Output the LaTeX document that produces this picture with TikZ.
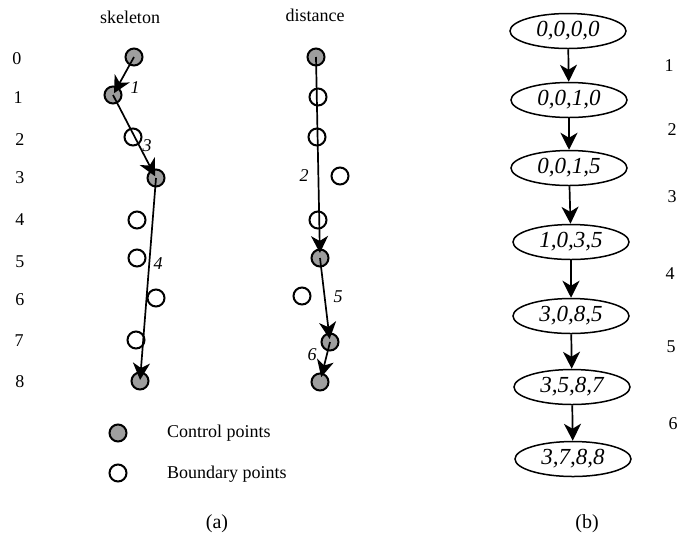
\documentclass[tikz,border=0pt]{standalone}
\usepackage{fontspec}
\setmainfont{Liberation Serif}
\usetikzlibrary{arrows.meta,shapes.geometric}
\begin{document}
\begin{tikzpicture}[x=1pt,y=-1pt,
  ctrl/.style={circle,draw,line width=2pt,fill=black!38,minimum size=17pt,inner sep=0pt},
  bnd/.style={circle,draw,line width=2pt,minimum size=17pt,inner sep=0pt},
  arr/.style={line width=1.7pt,-{Stealth[length=17pt,width=17pt,inset=5pt]}},
  lbl/.style={inner sep=0pt,font=\fontsize{18}{20}\selectfont},
  albl/.style={inner sep=0pt,font=\fontsize{18}{20}\selectfont\itshape},
  st/.style={ellipse,draw,line width=1.5pt,minimum width=116pt,minimum height=35pt,inner sep=0pt,font=\fontsize{23}{25}\selectfont\itshape}]
\useasboundingbox (0,0) rectangle (696,547);
% headers
\node[lbl] (hs) at (130,17) {skeleton};
\node[lbl] (hd) at (315,15) {distance};
% row numbers
\node[lbl] (r0) at (17,59) {0};
\node[lbl] (r1) at (18,98) {1};
\node[lbl] (r2) at (20,140) {2};
\node[lbl] (r3) at (20,178) {3};
\node[lbl] (r4) at (20,220) {4};
\node[lbl] (r5) at (20,262) {5};
\node[lbl] (r6) at (20,300) {6};
\node[lbl] (r7) at (19,341) {7};
\node[lbl] (r8) at (20,382) {8};
% skeleton column
\node[ctrl] (s0) at (134,57) {};
\node[ctrl] (s1) at (113,95) {};
\node[bnd]  (s2) at (133,137) {};
\node[ctrl] (s3) at (156,178) {};
\node[bnd]  (s4) at (137,220) {};
\node[bnd]  (s5) at (137,258) {};
\node[bnd]  (s6) at (156,298) {};
\node[bnd]  (s7) at (136,340) {};
\node[ctrl] (s8) at (140,381) {};
\draw[arr,shorten >=2pt] (s0.center) -- (s1.center);
\draw[arr,shorten >=2pt] (s1.center) -- (s3.center);
\draw[arr,shorten >=1pt] (s3.center) -- (s8.center);
\node[albl] (l1) at (135,88) {1};
\node[albl] (l3) at (147,146) {3};
\node[albl] (l4) at (158,264) {4};
% distance column
\node[ctrl] (d0) at (316,57) {};
\node[bnd]  (d1) at (318,97) {};
\node[bnd]  (d2) at (317,137) {};
\node[bnd]  (d3) at (340,176) {};
\node[bnd]  (d4) at (318,220) {};
\node[ctrl] (d5) at (320,258) {};
\node[bnd]  (d6) at (302,296) {};
\node[ctrl] (d7) at (330,342) {};
\node[ctrl] (d8) at (320,382) {};
\draw[arr,shorten >=5pt] (d0.center) -- (d5.center);
\draw[arr,shorten >=3pt] (d5.center) -- (d7.center);
\draw[arr,shorten >=5pt] (d7.center) -- (d8.center);
\node[albl] (l2) at (304,176) {2};
\node[albl] (l5) at (338,297) {5};
\node[albl] (l6) at (312,355) {6};
% legend
\node[ctrl] (kc) at (118,433) {};
\node[bnd]  (kb) at (118,473) {};
\node[lbl,anchor=west] (tc) at (167,433) {Control points};
\node[lbl,anchor=west] (tb) at (167,474) {Boundary points};
\node[inner sep=0pt,font=\fontsize{20}{22}\selectfont] (ca) at (217,524) {(a)};
% (b) state chain
\node[st] (e1) at (568,31) {0,0,0,0};
\node[st] (e2) at (569,100) {0,0,1,0};
\node[st] (e3) at (569,168) {0,0,1,5};
\node[st] (e4) at (571,242) {1,0,3,5};
\node[st] (e5) at (571,316) {3,0,8,5};
\node[st] (e6) at (572,387) {3,5,8,7};
\node[st] (e7) at (573,459) {3,7,8,8};
\foreach \a/\b in {e1/e2,e2/e3,e3/e4,e4/e5,e5/e6,e6/e7}
  \draw[arr] (\a) -- (\b);
\node[lbl] (n1) at (669,66) {1};
\node[lbl] (n2) at (672,130) {2};
\node[lbl] (n3) at (672,197) {3};
\node[lbl] (n4) at (670,274) {4};
\node[lbl] (n5) at (671,347) {5};
\node[lbl] (n6) at (673,424) {6};
\node[inner sep=0pt,font=\fontsize{20}{22}\selectfont] (cb) at (587,524) {(b)};
\end{tikzpicture}
\end{document}
